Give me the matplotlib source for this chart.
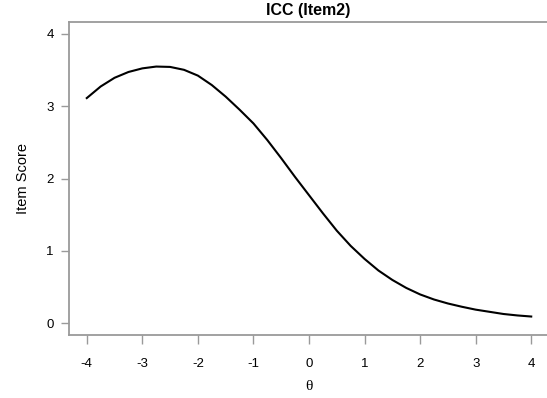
import numpy as np
import matplotlib
matplotlib.use('Agg')
import matplotlib.pyplot as plt

plt.rcParams['font.family'] = ['Liberation Sans', 'DejaVu Sans']

# curva ICC (theta, punteggio atteso)
theta = [-4.0, -3.75, -3.5, -3.25, -3.0, -2.75, -2.5, -2.25, -2.0, -1.75, -1.5,
         -1.25, -1.0, -0.75, -0.5, -0.25, 0.0, 0.25, 0.5, 0.75, 1.0, 1.25, 1.5,
         1.75, 2.0, 2.25, 2.5, 2.75, 3.0, 3.25, 3.5, 3.75, 4.0]
score = [3.11, 3.27, 3.39, 3.47, 3.52, 3.545, 3.54, 3.50, 3.42, 3.29, 3.13,
         2.95, 2.76, 2.53, 2.28, 2.02, 1.77, 1.52, 1.28, 1.07, 0.89, 0.73, 0.60,
         0.49, 0.40, 0.33, 0.275, 0.23, 0.19, 0.16, 0.13, 0.11, 0.095]
xticks = [-4, -3, -2, -1, 0, 1, 2, 3, 4]
yticks = [0, 1, 2, 3, 4]

fig = plt.figure(figsize=(5.47, 3.98), dpi=100)
ax = fig.add_axes([69/547, 63/398, 480/547, 313/398])

ax.plot(theta, score, color='black', lw=1.5, solid_joinstyle='round')

ax.set_xlim(-4.32, 4.32)
ax.set_ylim(-0.16, 4.16)
ax.set_xticks(xticks)
ax.set_yticks(yticks)
ax.set_xticklabels([str(t) for t in xticks], fontsize=9.5)
ax.set_yticklabels([str(t) for t in yticks], fontsize=9.5)

grey = '#9a9a9a'
for s in ['left', 'top', 'bottom']:
    ax.spines[s].set_color(grey)
    ax.spines[s].set_linewidth(1.3)
ax.spines['right'].set_visible(False)
ax.tick_params(axis='x', direction='out', length=6.5, width=1.0, color=grey, pad=10)
ax.tick_params(axis='y', direction='out', length=6, width=1.0, color=grey, pad=5)

ax.set_xlabel('\u03b8', fontsize=11, labelpad=7, family='Liberation Serif')
ax.set_ylabel('Item Score', fontsize=10.5, labelpad=12)

fig.text(308/547, 1 - 10.5/398, 'ICC (Item2)', ha='center', va='center',
         fontsize=11.5, fontweight='bold')

fig.savefig('out.png', dpi=100)
